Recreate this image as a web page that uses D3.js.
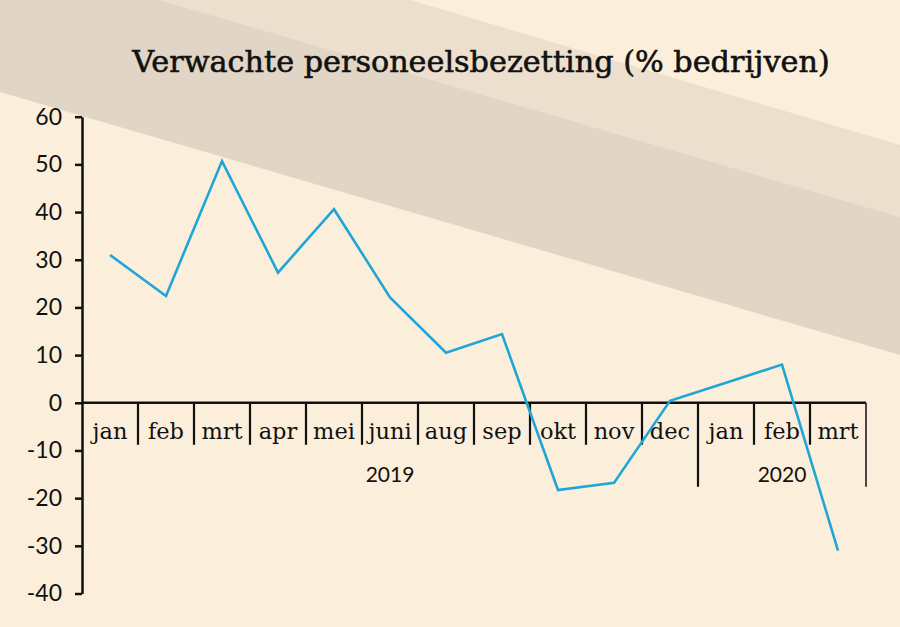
<!DOCTYPE html>
<html>
<head>
<meta charset="utf-8">
<script src="https://cdn.jsdelivr.net/npm/d3@7"></script>
<style>
  html, body { margin: 0; padding: 0; background: #fbefdb; }
  svg { display: block; }
</style>
</head>
<body>
<div id="chart"></div>
<script>
// Data
const months = ["jan", "feb", "mrt", "apr", "mei", "juni", "aug", "sep", "okt", "nov", "dec", "jan", "feb", "mrt"];
const values = [31, 22.4, 50.7, 27.3, 40.6, 22.1, 10.5, 14.4, -18.3, -16.8, 0.4, 4.2, 8, -31];
const years = ["2019", "2020"];
const yearStart = [0, 11];   // first month index of each year
const yearEnd = [10, 13];    // last month index of each year
const yTicks = [-40, -30, -20, -10, 0, 10, 20, 30, 40, 50, 60];

const width = 900, height = 627;

const svg = d3.select("#chart")
    .append("svg")
    .attr("width", width)
    .attr("height", height);

// Background with the diagonal bands
svg.append("rect").attr("width", width).attr("height", height).attr("fill", "#fbefdb");
svg.append("polygon")
    .attr("points", "160,0 410,0 900,145 900,217")
    .attr("fill", "#ecdfcd");
svg.append("polygon")
    .attr("points", "0,0 160,0 900,217 900,355 0,92")
    .attr("fill", "#e1d5c6");

// Scales
const x = d3.scaleBand()
    .domain(d3.range(months.length))
    .range([82, 866])
    .paddingInner(0)
    .paddingOuter(0);

const y = d3.scaleLinear()
    .domain([-40, 60])
    .range([593.5, 116.7]);

// Title
const title = svg.append("text")
    .attr("x", 481)
    .attr("y", 72)
    .attr("text-anchor", "middle")
    .attr("fill", "#111")
    .attr("stroke", "#111")
    .attr("stroke-width", 0.6)
    .style("font-family", "'DejaVu Serif', serif")
    .style("font-size", "28px")
    .text("Verwachte personeelsbezetting (% bedrijven)");
// fit the title to the width it has in the picture
const tw = title.node().getComputedTextLength();
title.style("font-size", (28 * 698 / tw) + "px");

// Y axis
const yAxis = d3.axisLeft(y)
    .tickValues(yTicks)
    .tickSize(7)
    .tickSizeOuter(0)
    .tickPadding(13)
    .tickFormat(d => String(d));

const gy = svg.append("g")
    .attr("transform", "translate(82,0)")
    .call(yAxis);
gy.select(".domain").attr("stroke", "#111").attr("stroke-width", 2.5);
gy.selectAll(".tick line").attr("stroke", "#111").attr("stroke-width", 2.5);
gy.selectAll(".tick text")
    .attr("fill", "#111")
    .style("font-family", "Lato, sans-serif")
    .style("font-size", "23px");

// X axis (zero line)
const y0 = y(0);
svg.append("line")
    .attr("x1", 82).attr("x2", x.range()[1])
    .attr("y1", y0).attr("y2", y0)
    .attr("stroke", "#111")
    .attr("stroke-width", 2.5);

// Month dividers
const dividers = d3.range(1, months.length + 1);
svg.append("g")
    .selectAll("line")
    .data(dividers)
    .join("line")
    .attr("x1", i => i < months.length ? x(i) : x.range()[1])
    .attr("x2", i => i < months.length ? x(i) : x.range()[1])
    .attr("y1", y0)
    .attr("y2", i => (yearStart.includes(i) || i === months.length) ? y0 + 84 : y0 + 42)
    .attr("stroke", "#111")
    .attr("stroke-width", i => i === months.length ? 1.5 : 2.2);

// Month labels
svg.append("g")
    .selectAll("text")
    .data(months)
    .join("text")
    .attr("x", (d, i) => x(i) + x.bandwidth() / 2)
    .attr("y", y0 + 36)
    .attr("text-anchor", "middle")
    .attr("fill", "#111")
    .style("font-family", "'DejaVu Serif', serif")
    .style("font-size", "22.5px")
    .text(d => d);

// Year labels
svg.append("g")
    .selectAll("text")
    .data(years)
    .join("text")
    .attr("x", (d, i) => (x(yearStart[i]) + x(yearEnd[i]) + x.bandwidth()) / 2)
    .attr("y", y0 + 79)
    .attr("text-anchor", "middle")
    .attr("fill", "#111")
    .style("font-family", "Lato, sans-serif")
    .style("font-size", "21px")
    .text(d => d);

// Line
const line = d3.line()
    .x((d, i) => x(i) + x.bandwidth() / 2)
    .y(d => y(d));

svg.append("path")
    .datum(values)
    .attr("d", line)
    .attr("fill", "none")
    .attr("stroke", "#1fa6d7")
    .attr("stroke-width", 2.6)
    .attr("stroke-linejoin", "miter");
</script>
</body>
</html>
